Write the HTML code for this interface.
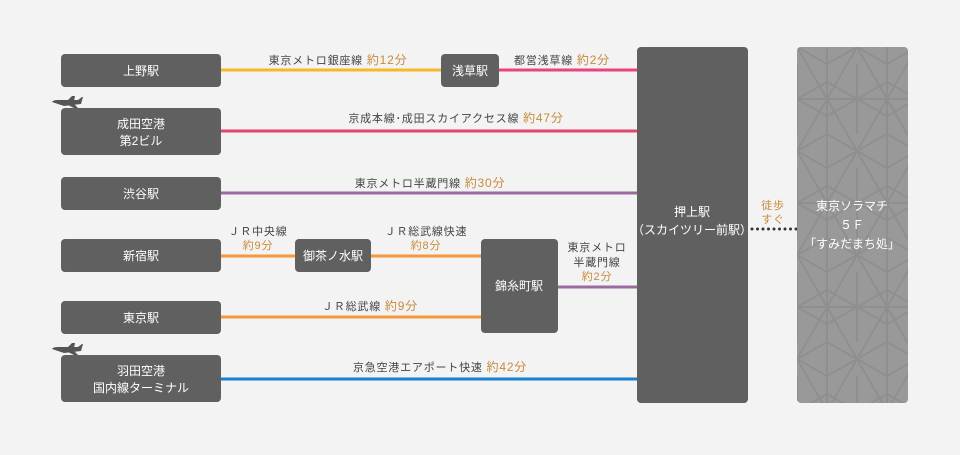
<!DOCTYPE html>
<html><head><meta charset="utf-8"><style>
body{margin:0;background:#f2f3f2;}
svg{display:block;font-family:"Liberation Sans","Noto Sans CJK JP",sans-serif;}
.w{fill:#fff;font-size:12px;text-anchor:middle;}
.l{fill:#444;font-size:11px;text-anchor:middle;letter-spacing:0.8px;}
.o{fill:#c88a3c;}
</style></head><body>
<svg width="960" height="455" viewBox="0 0 960 455">
<defs>
<pattern id="asa" width="60" height="104" patternUnits="userSpaceOnUse" x="797" y="47">
<g stroke="#8f8f8f" stroke-width="2" fill="none">
<path d="M0 0L60 104M60 0L0 104M30 0V104M0 52H60"/>
<path d="M0 0L30 17L60 0M0 104L30 87L60 104M30 17L30 52M30 87L30 52"/>
<path d="M0 52L30 35L60 52L30 69Z"/>
<path d="M0 17V87M60 17V87"/>
</g>
</pattern>
</defs>
<line x1="221" y1="70" x2="441" y2="70" stroke="#f6b828" stroke-width="3"/>
<line x1="499" y1="70" x2="637" y2="70" stroke="#e8447f" stroke-width="3"/>
<line x1="221" y1="131" x2="637" y2="131" stroke="#e0476a" stroke-width="3"/>
<line x1="221" y1="193" x2="637" y2="193" stroke="#9b6ba0" stroke-width="3"/>
<line x1="221" y1="256" x2="481" y2="256" stroke="#f59a3c" stroke-width="3"/>
<line x1="558" y1="287" x2="637" y2="287" stroke="#9b6ba0" stroke-width="3"/>
<line x1="221" y1="317" x2="481" y2="317" stroke="#f59a3c" stroke-width="3"/>
<line x1="221" y1="379" x2="637" y2="379" stroke="#1a7fcf" stroke-width="3"/>
<line x1="752" y1="229" x2="797" y2="229" stroke="#333" stroke-width="3" stroke-dasharray="0 5.5" stroke-linecap="round"/>
<g fill="#606060">
<rect x="61" y="54" width="160" height="33" rx="4"/>
<rect x="441" y="54" width="58" height="33" rx="4"/>
<rect x="61" y="108" width="160" height="47" rx="4"/>
<rect x="61" y="177" width="160" height="33" rx="4"/>
<rect x="61" y="239" width="160" height="33" rx="4"/>
<rect x="295" y="239" width="76" height="33" rx="4"/>
<rect x="481" y="239" width="77" height="94" rx="4"/>
<rect x="61" y="301" width="160" height="33" rx="4"/>
<rect x="61" y="355" width="160" height="47" rx="4"/>
<rect x="637" y="47" width="111" height="356" rx="4"/>
</g>
<rect x="797" y="47" width="111" height="356" rx="4" fill="#999"/>
<rect x="797" y="47" width="111" height="356" rx="4" fill="url(#asa)"/>
<g fill="#555">
<path d="M52 102 Q53 100 58 100 L78 100 L82 97 L83 97 L81 104 L64 106 Z"/><path d="M68 100 L72 96 L75 96 L74 101Z"/><path d="M66 104 L74 104 L78 108 L74 108Z"/>
<path d="M52 349 Q53 347 58 347 L78 347 L82 344 L83 344 L81 351 L64 353 Z"/><path d="M68 347 L72 343 L75 343 L74 348Z"/><path d="M66 351 L74 351 L78 355 L74 355Z"/>
</g>
<text class="w" x="141" y="75">上野駅</text>
<text class="w" x="470" y="75" font-size="13">浅草駅</text>
<text class="w" x="141" y="128">成田空港</text>
<text class="w" x="141" y="145">第2ビル</text>
<text class="w" x="141" y="198">渋谷駅</text>
<text class="w" x="141" y="260">新宿駅</text>
<text class="w" x="333" y="260">御茶ノ水駅</text>
<text class="w" x="519" y="290">錦糸町駅</text>
<text class="w" x="141" y="322">東京駅</text>
<text class="w" x="141" y="375">羽田空港</text>
<text class="w" x="141" y="392">国内線ターミナル</text>
<text class="w" x="692" y="216" font-size="13">押上駅</text>
<text class="w" x="692" y="234" font-size="11.5">（スカイツリー前駅）</text>
<text class="w" x="852" y="210" font-size="11">東京ソラマチ</text>
<text class="w" x="852" y="229" font-size="13">５Ｆ</text>
<text class="w" x="852" y="248" font-size="13">「すみだまち処」</text>
<text class="l" x="338" y="64">東京メトロ銀座線  <tspan class="o" font-size="12">約12分</tspan></text>
<text class="l" x="562" y="64">都営浅草線  <tspan class="o" font-size="12">約2分</tspan></text>
<text class="l" x="456" y="122">京成本線･成田スカイアクセス線   <tspan class="o" font-size="12">約47分</tspan></text>
<text class="l" x="430" y="187">東京メトロ半蔵門線  <tspan class="o" font-size="12">約30分</tspan></text>
<text class="l" x="258" y="235">ＪＲ中央線</text>
<text class="l o" x="258" y="249" font-size="12">約9分</text>
<text class="l" x="426" y="235">ＪＲ総武線快速</text>
<text class="l o" x="426" y="249" font-size="12">約8分</text>
<text class="l" x="597" y="251">東京メトロ</text>
<text class="l" x="597" y="266">半蔵門線</text>
<text class="l o" x="597" y="280" font-size="12">約2分</text>
<text class="l" x="370" y="310">ＪＲ総武線  <tspan class="o" font-size="12">約9分</tspan></text>
<text class="l" x="440" y="371">京急空港エアポート快速  <tspan class="o" font-size="12">約42分</tspan></text>
<text class="l o" x="773" y="209">徒歩</text>
<text class="l o" x="773" y="223">すぐ</text>
</svg>
</body></html>
